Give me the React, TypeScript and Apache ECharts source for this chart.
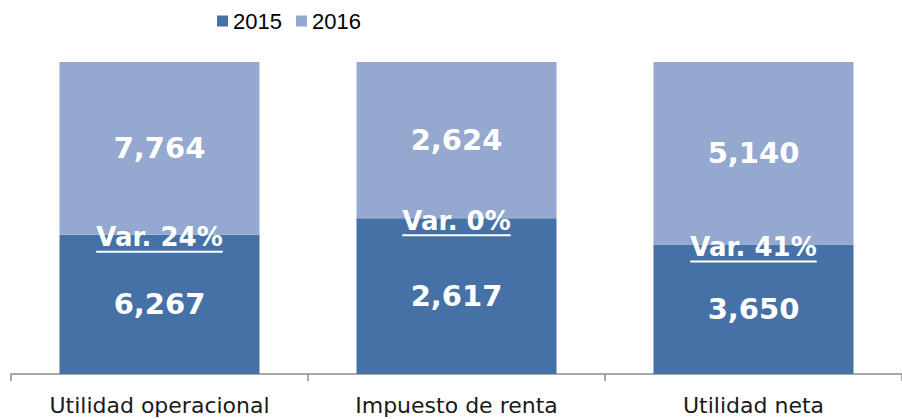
import React, { useEffect, useRef } from "react";
import * as echarts from "echarts";

const categories = ["Utilidad operacional", "Impuesto de renta", "Utilidad neta"];
const values2015 = [6267, 2617, 3650];
const values2016 = [7764, 2624, 5140];
const varLabels = ["Var. 24%", "Var. 0%", "Var. 41%"];
const seriesNames = ["2015", "2016"];

const FONT = "'DejaVu Sans', 'Liberation Sans', Arial, sans-serif";
const NARROW = "'Liberation Sans Narrow', 'Liberation Sans', Arial, sans-serif";

function measure(text: string, font: string): number {
  const c = document.createElement("canvas");
  const ctx = c.getContext("2d");
  if (!ctx) return text.length * 15;
  ctx.font = font;
  return ctx.measureText(text).width;
}

export default function App() {
  const ref = useRef<HTMLDivElement>(null);
  useEffect(() => {
    if (!ref.current) return;
    const chart = echarts.init(ref.current, null, { renderer: "svg" });
    const totals = values2015.map((v, i) => v + values2016[i]);
    const share2015 = values2015.map((v, i) => v / totals[i]);
    const share2016 = values2016.map((v, i) => v / totals[i]);
    const fmt = (n: number) => n.toLocaleString("en-US");
    const varFont = `bold 26px 'DejaVu Sans'`;
    const valueLabel = (vals: number[]) => ({
      show: true,
      position: "inside",
      color: "#fff",
      fontWeight: "bold",
      fontSize: 29,
      fontFamily: FONT,
      formatter: (p: any) => fmt(vals[p.dataIndex]),
    });
    chart.setOption({
      animation: false,
      textStyle: { fontFamily: FONT },
      legend: {
        left: 212,
        top: 5,
        itemWidth: 11,
        itemHeight: 11,
        itemGap: 14,
        icon: "rect",
        textStyle: { fontSize: 22, color: "#000", fontFamily: NARROW },
        data: seriesNames,
      },
      grid: { left: 11, right: -11, top: 62, bottom: 45 },
      xAxis: {
        type: "category",
        data: categories,
        axisLine: { lineStyle: { color: "#8c8c8c", width: 1.5 } },
        axisTick: { show: true, length: 7, lineStyle: { color: "#8c8c8c", width: 1.5 } },
        axisLabel: { fontSize: 22, color: "#1a1a1a", margin: 20, fontFamily: FONT },
      },
      yAxis: { type: "value", min: 0, max: 1, show: false },
      series: [
        {
          name: seriesNames[0],
          type: "bar",
          stack: "s",
          barWidth: 200,
          data: share2015,
          itemStyle: { color: "#4571A6" },
          label: valueLabel(values2015),
        },
        {
          name: seriesNames[1],
          type: "bar",
          stack: "s",
          barWidth: 200,
          data: share2016,
          itemStyle: { color: "#95A8D0" },
          label: valueLabel(values2016),
        },
        {
          name: "var",
          type: "scatter",
          symbolSize: 0,
          z: 10,
          silent: true,
          itemStyle: { opacity: 1 },
          data: share2015.map((s, i) => ({
            value: s,
            label: {
              rich: {
                u: {
                  width: measure(varLabels[i], varFont),
                  height: 2,
                  backgroundColor: "#fff",
                  lineHeight: 3,
                },
              },
            },
          })),
          label: {
            show: true,
            position: "inside",
            offset: [0, 4],
            formatter: (p: any) => `{t|${varLabels[p.dataIndex]}}\n{u|}`,
            rich: {
              t: {
                color: "#fff",
                fontWeight: "bold",
                fontSize: 26,
                fontFamily: FONT,
                lineHeight: 26,
              },
              u: { height: 2, backgroundColor: "#fff", lineHeight: 3, width: 130 },
            },
          },
        },
      ],
    });
    return () => chart.dispose();
  }, []);
  return (
    <div
      ref={ref}
      style={{ position: "absolute", left: 0, top: 0, width: 902, height: 419 }}
    />
  );
}
